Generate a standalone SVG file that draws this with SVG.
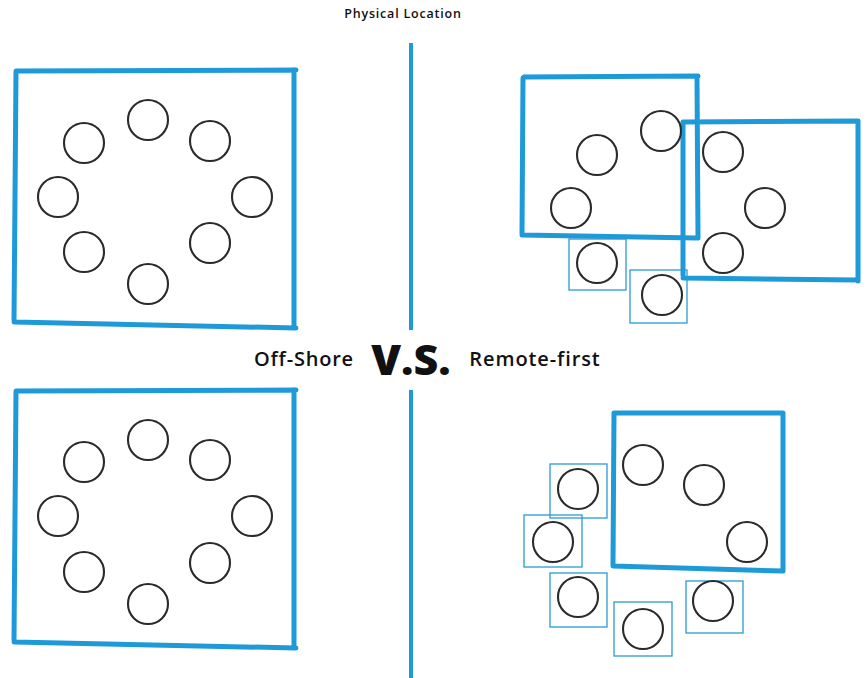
<svg xmlns="http://www.w3.org/2000/svg" width="868" height="678" viewBox="0 0 868 678">
<style>
.big{fill:none;stroke:#1e9ad8;stroke-width:5;stroke-linecap:round;stroke-linejoin:round}
.small{fill:none;stroke:#2a9bd6;stroke-width:1.3}
.div{fill:none;stroke:#1e9ad8;stroke-width:4}
.p{fill:#fff;stroke:#2b2b2b;stroke-width:2.1}
.t{font-family:"Open Sans","Liberation Sans",sans-serif;fill:#111}
</style>
<rect width="868" height="678" fill="#fff"/>
<text class="t" x="403" y="18" text-anchor="middle" font-size="12.5" font-weight="600" letter-spacing="0.8">Physical Location</text>
<g id="dividers">
<line class="div" x1="411" y1="43" x2="411" y2="330"/>
<line class="div" x1="411" y1="390" x2="411" y2="678"/>
</g>
<g id="labels">
<text class="t" x="304" y="366" text-anchor="middle" font-size="20" font-weight="600" letter-spacing="0.8">Off-Shore</text>
<text class="t" x="411" y="375" text-anchor="middle" font-size="43" font-weight="800">V.S.</text>
<text class="t" x="535" y="366" text-anchor="middle" font-size="20" font-weight="600" letter-spacing="0.9">Remote-first</text>
</g>
<g id="offshore-top">
<path class="big" d="M16,71 L296,70 M16,72 L14,320 M14,322 L296,328 M294,70 L294,328"/>
<circle class="p" cx="148" cy="120" r="20"/>
<circle class="p" cx="84" cy="143" r="20"/>
<circle class="p" cx="210" cy="141" r="20"/>
<circle class="p" cx="58" cy="197" r="20"/>
<circle class="p" cx="252" cy="197" r="20"/>
<circle class="p" cx="84" cy="252" r="20"/>
<circle class="p" cx="210" cy="243" r="20"/>
<circle class="p" cx="148" cy="284" r="20"/>
</g>
<g id="offshore-bottom">
<path class="big" d="M16,391 L296,390 M16,392 L14,640 M14,642 L296,648 M294,390 L294,648"/>
<circle class="p" cx="148" cy="440" r="20"/>
<circle class="p" cx="84" cy="462" r="20"/>
<circle class="p" cx="210" cy="460" r="20"/>
<circle class="p" cx="58" cy="516" r="20"/>
<circle class="p" cx="252" cy="516" r="20"/>
<circle class="p" cx="84" cy="572" r="20"/>
<circle class="p" cx="210" cy="563" r="20"/>
<circle class="p" cx="148" cy="604" r="20"/>
</g>
<g id="remote-top">
<path class="big" d="M524,77 L698,76 M523,78 L522,233 M522,235 L697,238 M697,77 L698,238"/>
<path class="big" d="M684,122 L858,121 M683,122 L683,275 M683,278 L857,280 M858,121 L858,281"/>
<circle class="p" cx="661" cy="131" r="20"/>
<circle class="p" cx="597" cy="155" r="20"/>
<circle class="p" cx="571" cy="208" r="20"/>
<circle class="p" cx="723" cy="152" r="20"/>
<circle class="p" cx="765" cy="208" r="20"/>
<circle class="p" cx="723" cy="253" r="20"/>
<rect class="small" x="569" y="239" width="57" height="51"/>
<circle class="p" cx="597" cy="263" r="20"/>
<rect class="small" x="630" y="270" width="57" height="53"/>
<circle class="p" cx="662" cy="295" r="20"/>
</g>
<g id="remote-bottom">
<path class="big" d="M614,413 L783,413 M614,414 L613,566 M613,566 L783,571 M783,413 L783,571"/>
<circle class="p" cx="643" cy="465" r="20"/>
<circle class="p" cx="704" cy="485" r="20"/>
<circle class="p" cx="747" cy="542" r="20"/>
<rect class="small" x="550" y="464" width="57" height="54"/>
<circle class="p" cx="578" cy="489" r="20"/>
<rect class="small" x="524" y="515" width="58" height="52"/>
<circle class="p" cx="553" cy="542" r="20"/>
<rect class="small" x="550" y="573" width="57" height="54"/>
<circle class="p" cx="578" cy="597" r="20"/>
<rect class="small" x="614" y="602" width="58" height="54"/>
<circle class="p" cx="643" cy="629" r="20"/>
<rect class="small" x="686" y="581" width="57" height="52"/>
<circle class="p" cx="713" cy="601" r="20"/>
</g>
</svg>
